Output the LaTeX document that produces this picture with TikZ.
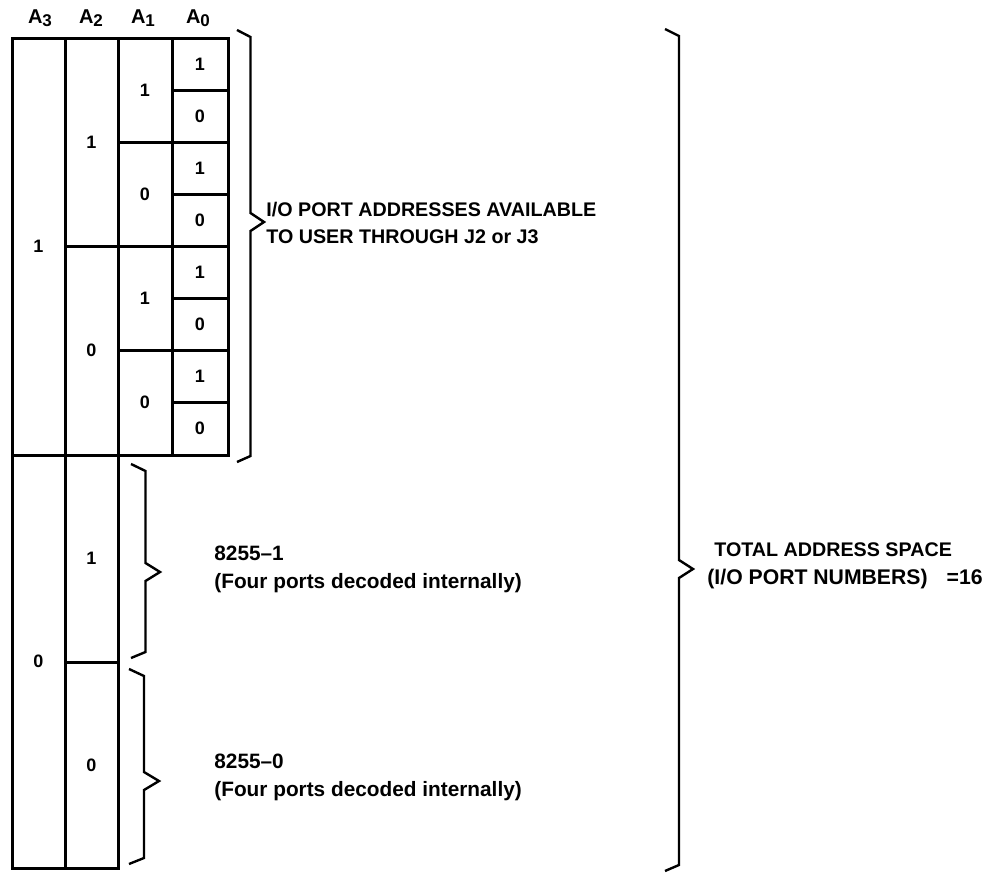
\documentclass[tikz,border=0pt]{standalone}
\usepackage{fontspec}
\setmainfont{Liberation Sans}
\newcommand{\abit}[1]{A\raisebox{-0.3ex}{\fontsize{8.5}{9}\selectfont #1}}
% 折线花括号: x, 宽, 上端, 尖端, 下端
\newcommand{\sbrace}[5]{%
  \draw[curly] (#1,#3) -- (#1+#2/2,#3+7) -- (#1+#2/2,#4-9) -- (#1+#2,#4)
    -- (#1+#2/2,#4+9) -- (#1+#2/2,#5-6) -- (#1,#5);}
\tikzset{
  gridline/.style={line width=1.5pt},
  curly/.style={line width=1.2pt, line join=miter},
  bit/.style={font=\fontsize{9}{10}\selectfont\bfseries},
  head/.style={font=\fontsize{10}{11}\selectfont\bfseries},
  note/.style={anchor=west, inner sep=0pt, font=\fontsize{9.85}{12}\selectfont\bfseries},
  lownote/.style={note, font=\fontsize{10.4}{13}\selectfont\bfseries},
}
\begin{document}
\begin{tikzpicture}[x=0.5pt, y=-0.5pt]
        \useasboundingbox (0,0) rectangle (1003,873);
        % 绘制表格外框
        \draw[gridline] (12,38) rectangle (228,455);
        \draw[gridline] (12,455) rectangle (118,868);
        \draw[gridline] (65,38) -- (65,868);
        \draw[gridline] (118,38) -- (118,455);
        \draw[gridline] (172,38) -- (172,455);
        % 分隔线
        \draw[gridline] (65,246) -- (228,246);
        \draw[gridline] (65,662) -- (118,662);
        \draw[gridline] (118,142) -- (228,142);
        \draw[gridline] (118,350) -- (228,350);
        \draw[gridline] (172,90) -- (228,90);
        \draw[gridline] (172,194) -- (228,194);
        \draw[gridline] (172,298) -- (228,298);
        \draw[gridline] (172,402) -- (228,402);
        % 列标题
        \node[head] (h3) at (40,18) {\abit{3}};
        \node[head] (h2) at (91,18) {\abit{2}};
        \node[head] (h1) at (143,18) {\abit{1}};
        \node[head] (h0) at (198,18) {\abit{0}};
        % 地址位
        \node[bit] (a3hi) at (38.5,246) {1};
        \node[bit] (a3lo) at (38.5,661) {0};
        \node[bit] (a2a) at (91.5,142) {1};
        \node[bit] (a2b) at (91.5,350) {0};
        \node[bit] (a2c) at (91.5,558) {1};
        \node[bit] (a2d) at (91.5,765) {0};
        \node[bit] (a1a) at (145,90) {1};
        \node[bit] (a1b) at (145,194) {0};
        \node[bit] (a1c) at (145,298) {1};
        \node[bit] (a1d) at (145,402) {0};
        \node[bit] (a0a) at (200,64) {1};
        \node[bit] (a0b) at (200,116) {0};
        \node[bit] (a0c) at (200,168) {1};
        \node[bit] (a0d) at (200,220) {0};
        \node[bit] (a0e) at (200,272) {1};
        \node[bit] (a0f) at (200,324) {0};
        \node[bit] (a0g) at (200,376) {1};
        \node[bit] (a0h) at (200,428) {0};
        % 花括号
        \sbrace{237}{27}{30}{222}{462}
        \sbrace{131}{29}{464}{572}{658}
        \sbrace{129}{30}{669}{781}{864}
        \sbrace{665}{28}{29}{569}{871}
        % 说明文字
        \node[note] (ioA) at (266,210) {I/O PORT ADDRESSES AVAILABLE};
        \node[note] (ioB) at (266,237) {TO USER THROUGH J2 or J3};
        \node[lownote] (pA) at (214,553) {8255--1};
        \node[lownote] (pB) at (214,583) {(Four ports decoded internally)};
        \node[lownote] (qA) at (214,761) {8255--0};
        \node[lownote] (qB) at (214,791) {(Four ports decoded internally)};
        \node[note] (totA) at (714,550) {TOTAL ADDRESS SPACE};
        \node[note, font=\fontsize{10.6}{12}\selectfont\bfseries] (totB) at (707,579) {(I/O PORT NUMBERS)\hspace{0.9em}=16};
    \end{tikzpicture}
\end{document}
